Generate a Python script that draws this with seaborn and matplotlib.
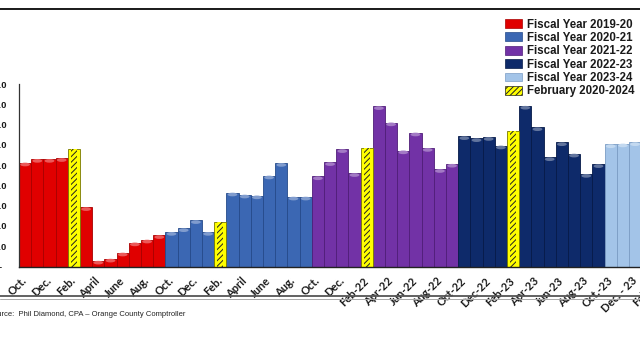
import pandas as pd
import matplotlib.pyplot as plt
import seaborn as sns
from matplotlib.patches import Patch, Ellipse
from matplotlib.lines import Line2D
from matplotlib.colors import to_rgb

# monthly values (millions)
fy_labels = ["Fiscal Year 2019-20", "Fiscal Year 2020-21", "Fiscal Year 2021-22",
             "Fiscal Year 2022-23", "Fiscal Year 2023-24"]
feb_label = "February 2020-2024"
fy_months = ["Oct", "Nov", "Dec", "Jan", "Feb", "Mar", "Apr", "May", "Jun", "Jul", "Aug", "Sep"]

fy1920 = [25.6, 26.5, 26.5, 26.7, 28.9, 14.6, 1.4, 1.9, 3.4, 5.9, 6.6, 7.7]
fy2021 = [8.5, 9.4, 11.4, 8.5, 10.9, 18.2, 17.7, 17.5, 22.4, 25.5, 17.2, 17.2]
fy2122 = [22.2, 25.7, 28.9, 23.0, 29.2, 39.5, 35.5, 28.6, 33.0, 29.2, 24.0, 25.3]
fy2223 = [32.1, 31.6, 31.9, 29.8, 33.3, 39.6, 34.3, 26.9, 30.6, 27.8, 22.8, 25.2]
fy2324 = [30.1, 30.3, 30.6]

tick_labels = ["Oct.", "Dec.", "Feb.", "April", "June", "Aug.",
               "Oct.", "Dec.", "Feb.", "April", "June", "Aug.",
               "Oct.", "Dec.", "Feb-22", "Apr-22", "Jun-22", "Aug-22",
               "Oct-22", "Dec-22", "Feb-23", "Apr-23", "Jun-23", "Aug-23",
               "Oct.-23", "Dec. - 23", "Feb-24"]

colors = {"Fiscal Year 2019-20": "#e00000", "Fiscal Year 2020-21": "#3b67b3",
          "Fiscal Year 2021-22": "#7232a6", "Fiscal Year 2022-23": "#0e2a6a",
          "Fiscal Year 2023-24": "#a3c4e8", feb_label: "#ffff00"}
edges = {"Fiscal Year 2019-20": "#a80000", "Fiscal Year 2020-21": "#254a8a",
         "Fiscal Year 2021-22": "#4f1d78", "Fiscal Year 2022-23": "#061a48",
         "Fiscal Year 2023-24": "#7b9cc4", feb_label: "#777700"}

rows = []
for i, (fy, vals) in enumerate(zip(fy_labels, [fy1920, fy2021, fy2122, fy2223, fy2324])):
    for m, v in zip(fy_months, vals):
        grp = feb_label if m == "Feb" else fy
        rows.append({"month": f"{m} {2019 + i}/{2020 + i}", "value": v, "group": grp})
df = pd.DataFrame(rows)
months = list(df["month"])

sns.set_theme(style="white")
plt.rcParams["hatch.linewidth"] = 0.7

fig = plt.figure(figsize=(6.4, 3.6), dpi=100)
ax = fig.add_axes([19 / 640, 93.5 / 360, 54 * 12.2 / 640, 182.5 / 360])

hue_order = fy_labels + [feb_label]
sns.barplot(data=df, x="month", y="value", hue="group", hue_order=hue_order,
            order=months, palette=colors, dodge=False, width=1.0, saturation=1,
            linewidth=0.6, legend=False, ax=ax)
for grp, cont in zip(hue_order, ax.containers):
    for bar in cont:
        bar.set_edgecolor(edges[grp])
        # lighter rounded cap, like the 3-D cylinders of the original
        if grp != feb_label:
            light = tuple(c + (1 - c) * 0.35 for c in to_rgb(colors[grp]))
            ax.add_patch(Ellipse((bar.get_x() + bar.get_width() / 2, bar.get_height() - 0.45),
                                 bar.get_width() * 0.8, 0.9, facecolor=light,
                                 edgecolor="none", zorder=bar.get_zorder() + 0.1))

# hatched core of the February bars
feb = df[df["group"] == feb_label]
sns.barplot(data=feb, x="month", y="value", order=months, color="#ffff00",
            width=0.5, saturation=1, hatch="//////", edgecolor="#222222",
            linewidth=0, ax=ax)

ax.set_xlim(-0.5, 53.5)
ax.set_ylim(0, 45)
ax.set_xlabel("")
ax.set_ylabel("")

ax.set_xticks(range(0, 2 * len(tick_labels), 2))
ax.set_xticklabels(tick_labels, rotation=45, ha="right", va="center",
                   rotation_mode="anchor", fontsize=8, fontweight="bold",
                   family="Lato", color="#1a1a1a")
ax.tick_params(axis="x", length=0, pad=9)

yt = list(range(0, 50, 5))
ax.set_yticks(yt)
ax.set_yticklabels(["-  "] + [f"{t:.1f}" for t in yt[1:]], fontsize=6.8,
                   fontweight="bold", family="Liberation Sans", color="#1a1a1a")
ax.tick_params(axis="y", length=3, width=0.8, direction="out", pad=5.5, color="#333333")

sns.despine(ax=ax, top=True, right=True)
ax.spines["left"].set_color("#333333")
ax.spines["left"].set_linewidth(0.9)
ax.spines["bottom"].set_color("#222222")
ax.spines["bottom"].set_linewidth(1.0)

handles = [Patch(facecolor=colors[g], edgecolor=edges[g], linewidth=0.5) for g in fy_labels]
handles.append(Patch(facecolor="#ffff00", edgecolor="#222222", hatch="//////", linewidth=0.5))
fig.legend(handles, hue_order, loc="upper left", bbox_to_anchor=(505 / 640, 1 - 18.5 / 360),
           frameon=False, borderpad=0, borderaxespad=0, handlelength=1.45,
           handleheight=0.8, handletextpad=0.45, labelspacing=0.12,
           prop={"family": "Liberation Sans", "weight": "bold", "size": 8.3},
           labelcolor="#1a1a1a")

# page rules above and below the chart
fig.add_artist(Line2D([0, 1], [1 - 7.5 / 360] * 2, color="#aaaaaa", lw=0.6))
fig.add_artist(Line2D([0, 1], [1 - 9.3 / 360] * 2, color="#1a1a1a", lw=1.4))
fig.add_artist(Line2D([0, 1], [1 - 296 / 360] * 2, color="#555555", lw=1.3))
fig.add_artist(Line2D([0, 1], [1 - 298.5 / 360] * 2, color="#aaaaaa", lw=0.7))

fig.text(-12 / 640, 1 - 315 / 360, "Source:  Phil Diamond, CPA \u2013 Orange County Comptroller",
         fontsize=5.5, family="Liberation Sans", color="#222222", va="center")

fig.savefig("out.png", dpi=100, facecolor="white")
